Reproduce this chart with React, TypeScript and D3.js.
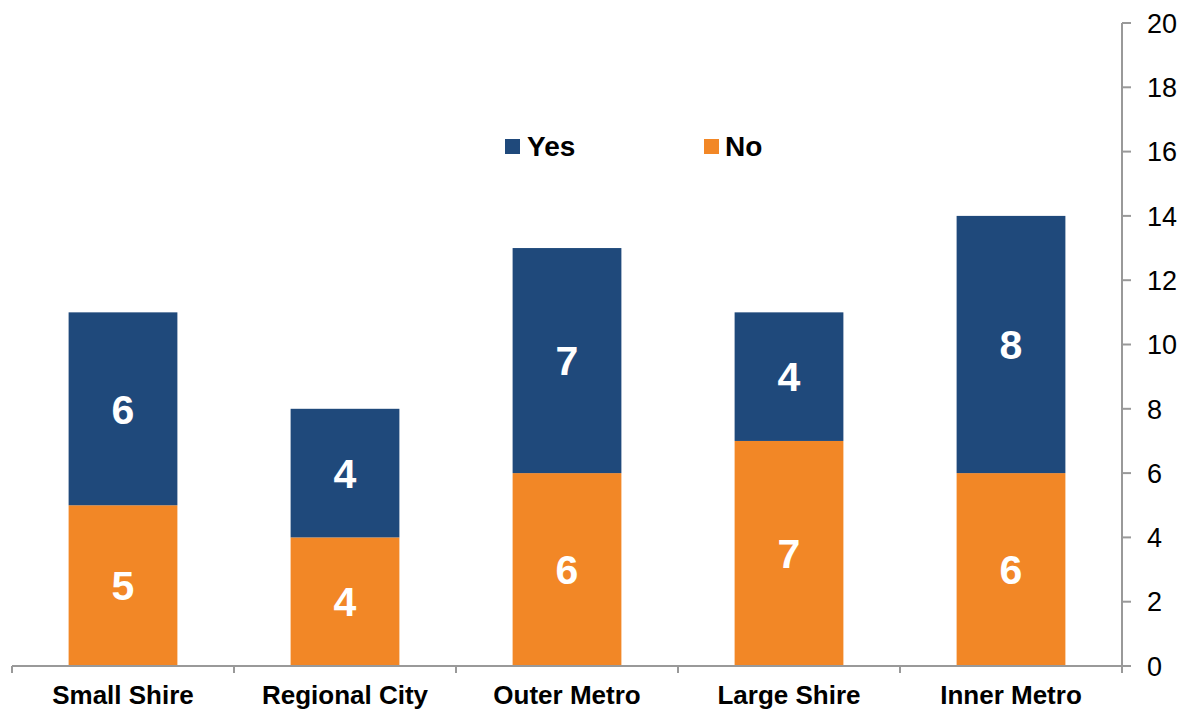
import React from "react";
import * as d3 from "d3";

const categories = ["Small Shire", "Regional City", "Outer Metro", "Large Shire", "Inner Metro"];
const noValues = [5, 4, 6, 7, 6];
const yesValues = [6, 4, 7, 4, 8];
const yTicks = [0, 2, 4, 6, 8, 10, 12, 14, 16, 18, 20];
const seriesNames = ["Yes", "No"];

const BLUE = "#1F497B";
const ORANGE = "#F28726";
const AXIS = "#999999";

export default function App() {
  const W = 1198, H = 713;
  const left = 12, right = 1122, top = 23, bottom = 666;
  const x = d3.scaleBand<string>().domain(categories).range([left, right]).paddingInner(0).paddingOuter(0);
  const y = d3.scaleLinear().domain([0, 20]).range([bottom, top]);
  const bw = x.bandwidth() * 0.49;
  const font = "Arial, 'Liberation Sans', sans-serif";

  return (
    <svg width={W} height={H} style={{ position: "absolute", left: 0, top: 0 }} fontFamily={font}>
      <rect width={W} height={H} fill="#fff" />
      {categories.map((c, i) => {
        const cx = x(c)! + x.bandwidth() / 2;
        const no = noValues[i], yes = yesValues[i];
        return (
          <g key={c}>
            <rect x={cx - bw / 2} y={y(no)} width={bw} height={y(0) - y(no)} fill={ORANGE} />
            <rect x={cx - bw / 2} y={y(no + yes)} width={bw} height={y(no) - y(no + yes)} fill={BLUE} />
            <text x={cx} y={(y(0) + y(no)) / 2} dy="0.36em" textAnchor="middle" fill="#fff" fontWeight="bold" fontSize={41}>{no}</text>
            <text x={cx} y={(y(no) + y(no + yes)) / 2} dy="0.36em" textAnchor="middle" fill="#fff" fontWeight="bold" fontSize={41}>{yes}</text>
            <text x={cx} y={695} dy="0.36em" textAnchor="middle" fill="#000" fontWeight="bold" fontSize={26}>{c}</text>
          </g>
        );
      })}
      {/* x axis */}
      <line x1={left} x2={right} y1={bottom} y2={bottom} stroke={AXIS} strokeWidth={2} />
      {categories.map((c) => (
        <line key={c} x1={x(c)!} x2={x(c)!} y1={bottom} y2={bottom + 7} stroke={AXIS} strokeWidth={2} />
      ))}
      <line x1={right} x2={right} y1={bottom} y2={bottom + 7} stroke={AXIS} strokeWidth={2} />
      {/* y axis */}
      <line x1={right} x2={right} y1={top} y2={bottom} stroke={AXIS} strokeWidth={2} />
      {yTicks.map((t) => (
        <g key={t}>
          <line x1={right} x2={right + 9} y1={y(t)} y2={y(t)} stroke={AXIS} strokeWidth={2} />
          <text x={1147} y={y(t)} dy="0.36em" fontSize={27} fill="#000">{t}</text>
        </g>
      ))}
      {/* legend */}
      <rect x={505} y={139} width={15} height={15} fill={BLUE} />
      <text x={527} y={145.5} dy="0.36em" fontSize={28} fontWeight="bold" fill="#000">{seriesNames[0]}</text>
      <rect x={704} y={139} width={15} height={15} fill={ORANGE} />
      <text x={725} y={145.5} dy="0.36em" fontSize={28} fontWeight="bold" fill="#000">{seriesNames[1]}</text>
    </svg>
  );
}
